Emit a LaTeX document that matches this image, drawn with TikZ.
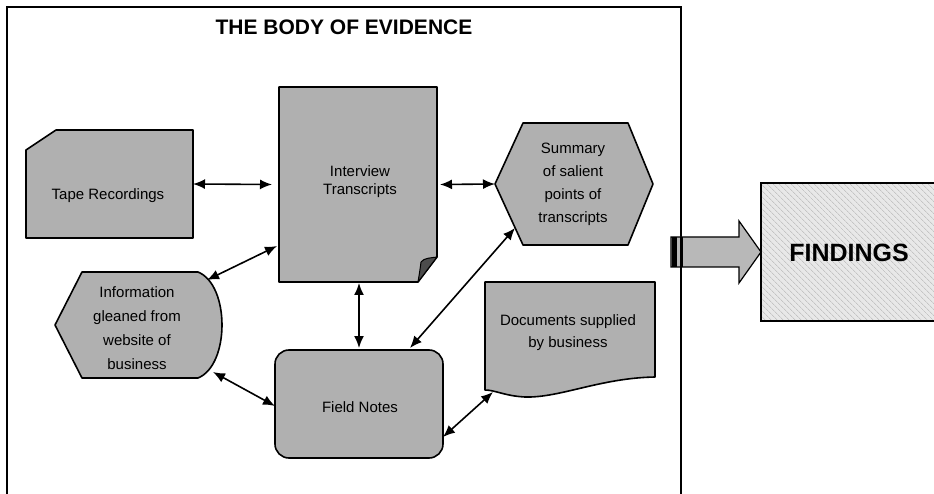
\documentclass[tikz,border=0pt]{standalone}
\usepackage{fontspec}
\setmainfont{Liberation Sans}
\usetikzlibrary{arrows.meta,calc,patterns.meta}
\begin{document}
\begin{tikzpicture}[x=1pt,y=-1pt,
  shapefill/.style={fill=black!31, draw=black, line width=1.6pt, line join=round},
  holder/.style={draw=none, inner sep=0pt, outer sep=0pt},
  lbl/.style={font=\fontsize{15}{#1}\selectfont, align=center, inner sep=0pt, anchor=base},
  link/.style={line width=1.6pt, {Latex[length=12pt,width=10pt]}-{Latex[length=12pt,width=10pt]}},
]
\useasboundingbox (0,0) rectangle (934,494);
\clip (0,0) rectangle (934,494);
\fill[white] (0,0) rectangle (934,494);

% frame around the evidence
\draw[line width=1.4pt] (7,520) -- (7,7) -- (681,7) -- (681,520);
\node[font=\bfseries\fontsize{21}{24}\selectfont, anchor=base] (title) at (344,35) {THE BODY OF EVIDENCE};

% anchor boxes for the shapes
\node[holder, minimum width=167pt, minimum height=108pt] (tape) at (109.5,184) {};
\node[holder, minimum width=158pt, minimum height=195pt] (interview) at (358,184.5) {};
\node[holder, minimum width=158pt, minimum height=122pt] (summary) at (574,184) {};
\node[holder, minimum width=168pt, minimum height=106pt] (info) at (139,325) {};
\node[holder, minimum width=168pt, minimum height=108pt] (field) at (359,404) {};
\node[holder, minimum width=170pt, minimum height=113pt] (docs) at (570,338.5) {};
\node[holder, minimum width=184pt, minimum height=138pt] (findings) at (853,252) {};

% shapes
\draw[shapefill] (26,150) -- (56,130) -- (193,130) -- (193,238) -- (26,238) -- cycle;
\draw[shapefill] (279,87) -- (437,87) -- (437,257) -- (418,282) -- (279,282) -- cycle;
\filldraw[fill=black!70, draw=black, line width=1pt, line join=round]
  (437,257) .. controls (430,258) and (424,258) .. (421,262)
  .. controls (420,270) and (419,276) .. (418,282) -- cycle;
\draw[shapefill] (495,184) -- (523,123) -- (628,123) -- (653,184) -- (628,245) -- (523,245) -- cycle;
\draw[shapefill] (55,325) -- (82,272) -- (198,272) .. controls (230,285) and (230,365) .. (198,378) -- (82,378) -- cycle;
\draw[shapefill, rounded corners=14pt] (275,350) rectangle (443,458);
\draw[shapefill] (485,282) -- (655,282) -- (655,377)
  .. controls (600,378) and (560,398) .. (525,397)
  .. controls (505,396) and (495,390) .. (485,390) -- cycle;
\fill[black!9] (761,183) rectangle (945,321);
\fill[pattern={Lines[angle=-45, distance=4pt, line width=0.5pt]}, pattern color=black!30] (761,183) rectangle (945,321);
\draw[line width=1.4pt] (945,183) -- (761,183) -- (761,321) -- (945,321);

% labels (anchored on the baseline of the last line)
\node[lbl=18pt] (tape-text) at (108,200) {Tape Recordings};
\node[lbl=18pt] (interview-text) at (360,195) {Interview\\Transcripts};
\node[lbl=23pt] (summary-text) at (573,223) {Summary\\of salient\\points of\\transcripts};
\node[lbl=24pt] (info-text) at (137,369) {Information\\gleaned from\\website of\\business};
\node[lbl=18pt] (field-text) at (360,412) {Field Notes};
\node[lbl=22pt] (docs-text) at (568,347) {Documents supplied\\by business};
\node[font=\bfseries\fontsize{25}{28}\selectfont, anchor=base] (findings-text) at (849,262) {FINDINGS};

% links between the sources
\draw[link] (tape.east) -- ($(interview.west)+(-7,0)$);
\draw[link] ($(interview.east)+(3,0)$) -- (summary.west);
\draw[link] ($(interview.south west)+(-2,-36)$) -- ($(info.north east)+(-16,8)$);
\draw[link] ($(interview.south)+(1,1)$) -- ($(field.north)+(0,-2)$);
\draw[link] ($(summary.south west)+(20,-17)$) -- ($(field.north)+(51,-2)$);
\draw[link] ($(info.south east)+(-10,-6)$) -- ($(field.west)+(0,2)$);
\draw[link] ($(field.south east)+(0,-21)$) -- ($(docs.south west)+(8,-3)$);

% block arrow into the findings
\filldraw[fill=black!28, draw=black, line width=1.2pt, line join=miter]
  (findings.west) -- ++(-22,-31) -- ++(0,16) -- ++(-68,0) -- ++(0,30)
  -- ++(68,0) -- ++(0,16) -- cycle;
\fill[black] ($(findings.west)+(-89,-15)$) rectangle ++(5,30);
\fill[black] ($(findings.west)+(-81,-15)$) rectangle ++(3,30);
\end{tikzpicture}
\end{document}
